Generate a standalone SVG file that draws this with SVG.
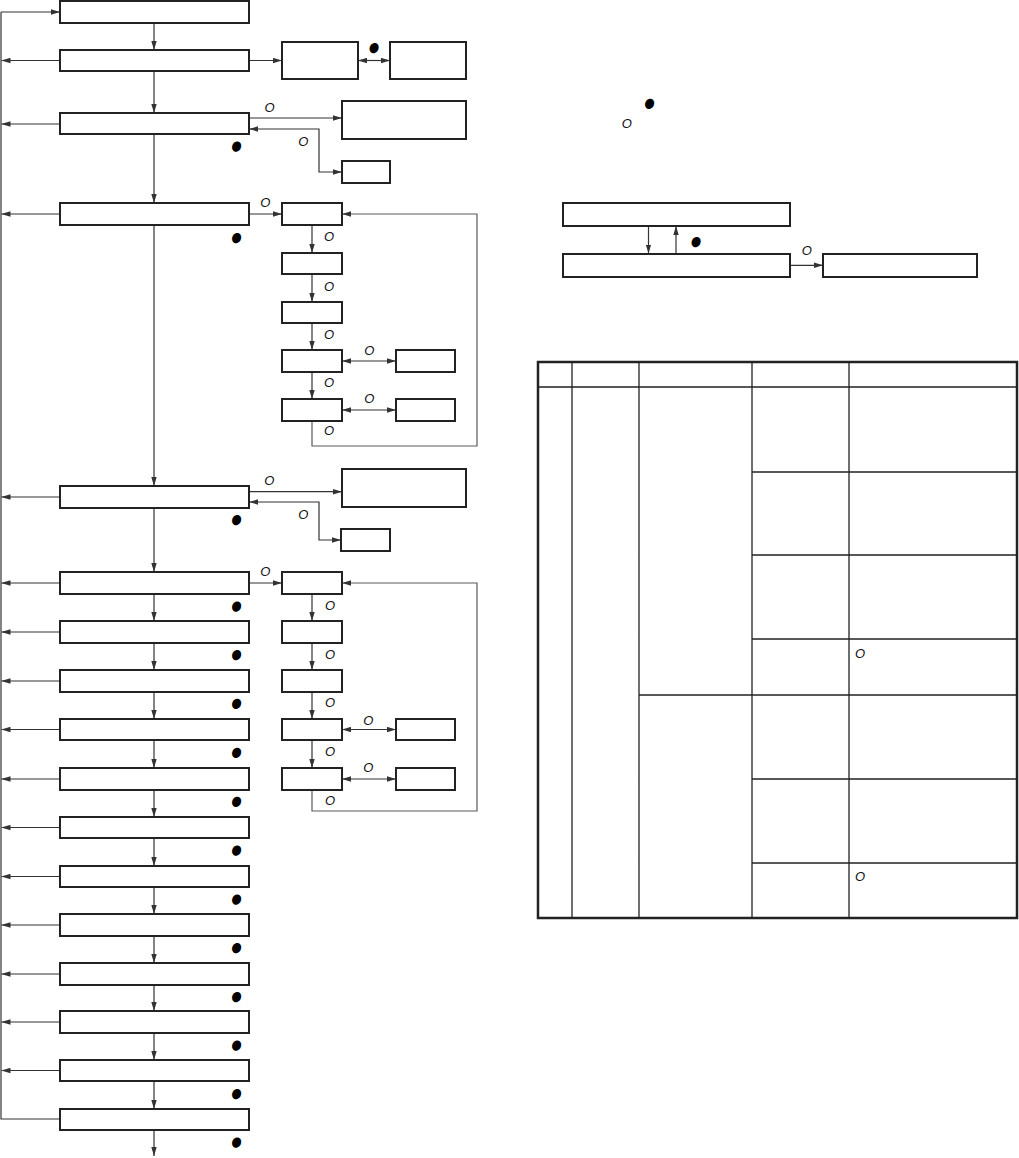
<svg xmlns="http://www.w3.org/2000/svg" width="1019" height="1158" viewBox="0 0 1019 1158">
<style>
.b{fill:#fff;stroke:#222;stroke-width:2}
.c{fill:none;stroke:#333;stroke-width:1.2}
.g{fill:none;stroke:#5a5a5a;stroke-width:1.2}
.t{fill:none;stroke:#222;stroke-width:1.3}
.o{font-family:"Liberation Sans",Arial,sans-serif;font-style:italic;font-size:13px;fill:#111;text-anchor:middle}
.d{font-family:"DejaVu Sans",sans-serif;font-size:14px;fill:#000;text-anchor:middle}
</style>
<defs>
<marker id="a" viewBox="0 0 10 6" refX="10" refY="3" markerWidth="9" markerHeight="6" orient="auto-start-reverse" markerUnits="userSpaceOnUse"><path d="M0,0 L10,3 L0,6 z" fill="#333"/></marker>
</defs>
<rect width="1019" height="1158" fill="#fff"/>
<g id="connectors">
<path class="c" d="M1,12 V1119 H60"/>
<path class="c" marker-end="url(#a)" d="M1,12 H60"/>
<g marker-end="url(#a)">
<path class="c" d="M60,60.5 H1.5"/><path class="c" d="M60,124 H1.5"/><path class="c" d="M60,214 H1.5"/><path class="c" d="M60,497 H1.5"/><path class="c" d="M60,583 H1.5"/><path class="c" d="M60,632 H1.5"/><path class="c" d="M60,681 H1.5"/><path class="c" d="M60,729.5 H1.5"/><path class="c" d="M60,779 H1.5"/><path class="c" d="M60,827.5 H1.5"/><path class="c" d="M60,876.5 H1.5"/><path class="c" d="M60,925 H1.5"/><path class="c" d="M60,974 H1.5"/><path class="c" d="M60,1022 H1.5"/><path class="c" d="M60,1070.5 H1.5"/>
<path class="c" d="M154,23 V50"/><path class="c" d="M154,71 V113"/><path class="c" d="M154,134 V203"/><path class="c" d="M154,225 V486"/><path class="c" d="M154,508 V572"/><path class="c" d="M154,594 V621"/><path class="c" d="M154,643 V670"/><path class="c" d="M154,692 V719"/><path class="c" d="M154,740 V768"/><path class="c" d="M154,790 V817"/><path class="c" d="M154,838 V866"/><path class="c" d="M154,887 V914"/><path class="c" d="M154,936 V963"/><path class="c" d="M154,985 V1011"/><path class="c" d="M154,1033 V1060"/><path class="c" d="M154,1081 V1109"/><path class="c" d="M154,1130 V1156"/>
<path class="c" d="M249,60.5 H282"/>
<path class="c" d="M249,118 H342"/>
<path class="c" d="M249,214 H282"/>
<path class="c" d="M249,491.7 H342"/>
<path class="c" d="M249,583 H282"/>
<path class="c" d="M312,225 V253"/><path class="c" d="M312,274 V302"/><path class="c" d="M312,323 V350"/><path class="c" d="M312,372 V399"/>
<path class="g" d="M312,421 V446 H477 V214 H342"/>
<path class="c" d="M312,594 V621"/><path class="c" d="M312,643 V670"/><path class="c" d="M312,692 V719"/><path class="c" d="M312,740 V768"/>
<path class="g" d="M312,790 V811 H477 V583 H342"/>
<path class="c" d="M648.5,226 V253.5"/><path class="c" d="M676,253.5 V226"/>
<path class="c" d="M790,265.3 H823"/>
</g>
<g marker-start="url(#a)" marker-end="url(#a)">
<path class="c" d="M358,60.5 H390"/>
<path class="c" d="M249,129 H319 V172 H342"/>
<path class="c" d="M249,502 H319 V540 H341"/>
<path class="c" d="M342,361 H396"/><path class="c" d="M342,410 H396"/>
<path class="c" d="M342,729.5 H396"/><path class="c" d="M342,779 H396"/>
</g>
</g>
<g id="main">
<rect id="m1" class="b" x="60" y="1" width="189" height="22"/>
<rect id="m2" class="b" x="60" y="50" width="189" height="21"/>
<rect id="m3" class="b" x="60" y="113" width="189" height="21"/>
<rect id="m4" class="b" x="60" y="203" width="189" height="22"/>
<rect id="m5" class="b" x="60" y="486" width="189" height="22"/>
<rect id="m6" class="b" x="60" y="572" width="189" height="22"/>
<rect id="m7" class="b" x="60" y="621" width="189" height="22"/>
<rect id="m8" class="b" x="60" y="670" width="189" height="22"/>
<rect id="m9" class="b" x="60" y="719" width="189" height="21"/>
<rect id="m10" class="b" x="60" y="768" width="189" height="22"/>
<rect id="m11" class="b" x="60" y="817" width="189" height="21"/>
<rect id="m12" class="b" x="60" y="866" width="189" height="21"/>
<rect id="m13" class="b" x="60" y="914" width="189" height="22"/>
<rect id="m14" class="b" x="60" y="963" width="189" height="22"/>
<rect id="m15" class="b" x="60" y="1011" width="189" height="22"/>
<rect id="m16" class="b" x="60" y="1060" width="189" height="21"/>
<rect id="m17" class="b" x="60" y="1109" width="189" height="21"/>
</g>
<g id="side">
<rect id="s2a" class="b" x="282" y="42" width="76" height="37"/>
<rect id="s2b" class="b" x="390" y="42" width="76" height="37"/>
<rect id="s3a" class="b" x="342" y="101" width="124" height="38"/>
<rect id="s3b" class="b" x="342" y="161" width="48" height="22"/>
<rect id="s5a" class="b" x="342" y="469" width="124" height="38"/>
<rect id="s5b" class="b" x="341" y="529" width="49" height="22"/>
</g>
<g id="chain1">
<rect class="b" x="282" y="203" width="60" height="22"/>
<rect class="b" x="282" y="253" width="60" height="21"/>
<rect class="b" x="282" y="302" width="60" height="21"/>
<rect class="b" x="282" y="350" width="60" height="22"/>
<rect class="b" x="282" y="399" width="60" height="22"/>
<rect class="b" x="396" y="350" width="59" height="22"/>
<rect class="b" x="396" y="399" width="59" height="22"/>
</g>
<g id="chain2">
<rect class="b" x="282" y="572" width="60" height="22"/>
<rect class="b" x="282" y="621" width="60" height="22"/>
<rect class="b" x="282" y="670" width="60" height="22"/>
<rect class="b" x="282" y="719" width="60" height="21"/>
<rect class="b" x="282" y="768" width="60" height="22"/>
<rect class="b" x="396" y="719" width="59" height="21"/>
<rect class="b" x="396" y="768" width="59" height="22"/>
</g>
<g id="legend">
<rect id="l1" class="b" x="563" y="203" width="227" height="23"/>
<rect id="l2" class="b" x="563" y="254" width="227" height="23"/>
<rect id="l3" class="b" x="823" y="254" width="154" height="23"/>
</g>
<g id="table">
<rect x="538" y="362" width="479" height="556" fill="none" stroke="#222" stroke-width="2.5"/>
<path class="t" d="M538,387 H1017 M572,362 V918 M639,362 V918 M752,362 V918 M849,362 V918 M752,472 H1017 M752,555 H1017 M752,639 H1017 M639,695 H1017 M752,779 H1017 M752,863 H1017"/>
</g>
<g id="labels">
<text class="o" x="269.5" y="111.7">O</text>
<text class="o" x="303.3" y="146">O</text>
<text class="o" x="265.3" y="207">O</text>
<text class="o" x="329" y="240.7">O</text>
<text class="o" x="329" y="290.7">O</text>
<text class="o" x="329" y="339.4">O</text>
<text class="o" x="329" y="387.4">O</text>
<text class="o" x="329" y="435.4">O</text>
<text class="o" x="369.3" y="354.7">O</text>
<text class="o" x="369.3" y="403">O</text>
<text class="o" x="269.3" y="484.7">O</text>
<text class="o" x="303.3" y="518.7">O</text>
<text class="o" x="265.3" y="576.4">O</text>
<text class="o" x="330" y="610">O</text>
<text class="o" x="330" y="658.7">O</text>
<text class="o" x="330" y="707.4">O</text>
<text class="o" x="330" y="756.4">O</text>
<text class="o" x="330" y="805.4">O</text>
<text class="o" x="368.3" y="724.7">O</text>
<text class="o" x="368.3" y="772">O</text>
<text class="o" x="626.7" y="128">O</text>
<text class="o" x="806.7" y="255.4">O</text>
<text class="o" x="860" y="658">O</text>
<text class="o" x="860" y="881.4">O</text>
<text class="d" transform="translate(374.7,47) rotate(25) scale(0.82,1)" y="4.9">●</text>
<text class="d" transform="translate(237,145.3) rotate(25) scale(0.82,1)" y="4.9">●</text>
<text class="d" transform="translate(237,236.8) rotate(25) scale(0.82,1)" y="4.9">●</text>
<text class="d" transform="translate(237,519) rotate(25) scale(0.82,1)" y="4.9">●</text>
<text class="d" transform="translate(237,605.3) rotate(25) scale(0.82,1)" y="4.9">●</text>
<text class="d" transform="translate(237,654) rotate(25) scale(0.82,1)" y="4.9">●</text>
<text class="d" transform="translate(237,702.7) rotate(25) scale(0.82,1)" y="4.9">●</text>
<text class="d" transform="translate(237,751.7) rotate(25) scale(0.82,1)" y="4.9">●</text>
<text class="d" transform="translate(237,800.7) rotate(25) scale(0.82,1)" y="4.9">●</text>
<text class="d" transform="translate(237,849.3) rotate(25) scale(0.82,1)" y="4.9">●</text>
<text class="d" transform="translate(237,898.3) rotate(25) scale(0.82,1)" y="4.9">●</text>
<text class="d" transform="translate(237,947) rotate(25) scale(0.82,1)" y="4.9">●</text>
<text class="d" transform="translate(237,996) rotate(25) scale(0.82,1)" y="4.9">●</text>
<text class="d" transform="translate(237,1044.3) rotate(25) scale(0.82,1)" y="4.9">●</text>
<text class="d" transform="translate(237,1093) rotate(25) scale(0.82,1)" y="4.9">●</text>
<text class="d" transform="translate(237,1141.3) rotate(25) scale(0.82,1)" y="4.9">●</text>
<text class="d" transform="translate(650,102.7) rotate(25) scale(0.82,1)" y="4.9">●</text>
<text class="d" transform="translate(696.7,241) rotate(25) scale(0.82,1)" y="4.9">●</text>
</g>
</svg>
